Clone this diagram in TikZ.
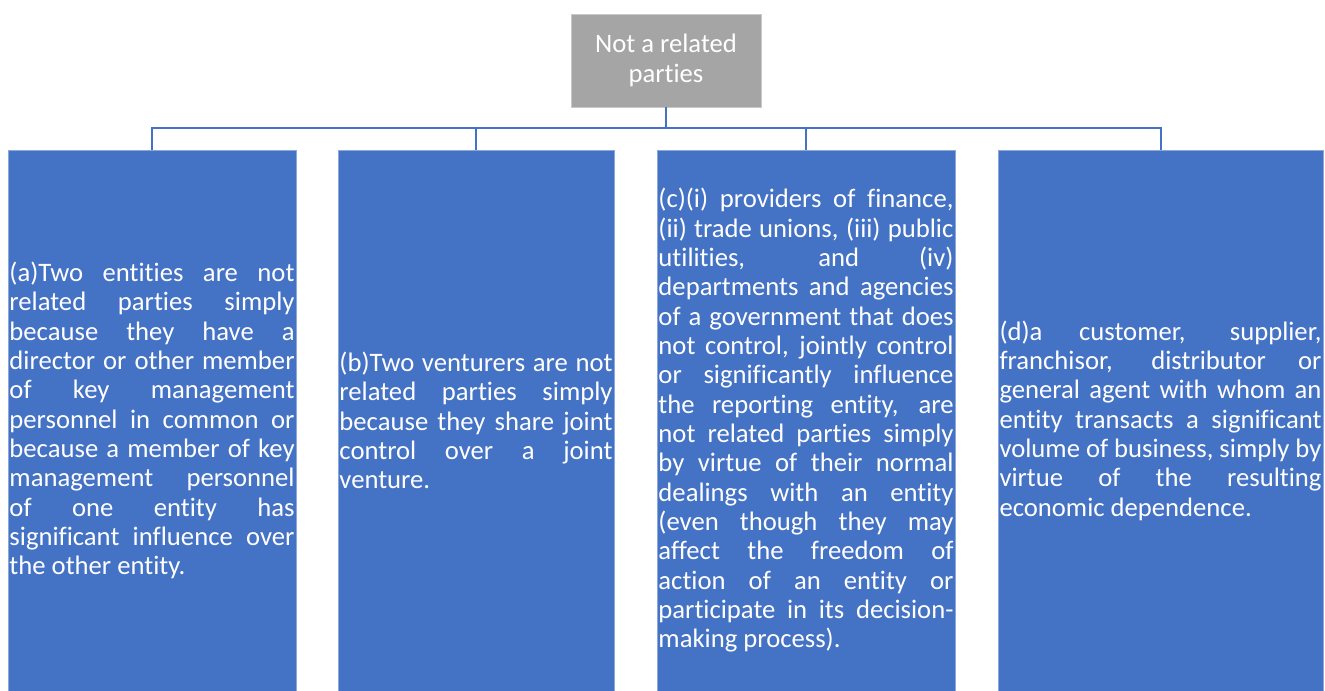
\documentclass[tikz,border=0pt]{standalone}
\usepackage{fontspec}
\setmainfont{Carlito}[Ligatures={NoCommon}]
\definecolor{leafblue}{RGB}{68,114,196}
\definecolor{leafedge}{RGB}{140,168,218}
\definecolor{rootgray}{RGB}{165,165,165}
\definecolor{rootedge}{RGB}{200,200,200}
\usepackage{tikz}
\usetikzlibrary{positioning}

\begin{document}
\begin{tikzpicture}[x=0.75pt, y=-0.75pt,
    font=\fontsize{20}{22}\selectfont,
    root/.style={draw=rootedge, line width=0.6pt, fill=rootgray, text=white,
                 minimum width=142.5pt, minimum height=69.75pt, align=center},
    leaf/.style={draw=leafedge, line width=0.6pt, fill=leafblue, text=white,
                 minimum height=405.75pt, inner sep=1.1pt, align=justify,
                 execute at begin node={\hyphenpenalty=10000\tolerance=10000\emergencystretch=2em}},
    link/.style={draw=leafblue, line width=1.5pt}]

  \useasboundingbox (0,0) rectangle (1325,691);

  \node[root] (notrel) at (666,60.5) {Not a related\\parties};

  \node[leaf, minimum width=216pt, text width=213.8pt] (partya) at (152,420.5) {
    (a)Two entities are not\linebreak
    related parties simply\linebreak
    because they have a\linebreak
    director or other member\linebreak
    of key management\linebreak
    personnel in common or\linebreak
    because a member of key\linebreak
    management personnel\linebreak
    of one entity has\linebreak
    significant influence over\linebreak
    the other entity.
  };

  \node[leaf, minimum width=207pt, text width=204.8pt] (partyb) at (476,420.5) {
    (b)Two venturers are not\linebreak
    related parties simply\linebreak
    because they share joint\linebreak
    control over a joint\linebreak
    venture.
  };

  \node[leaf, minimum width=223.5pt, text width=221.3pt] (partyc) at (806,420.5) {
    (c)(i) providers of finance,\linebreak
    (ii) trade unions, (iii) public\linebreak
    utilities, and (iv)\linebreak
    departments and agencies\linebreak
    of a government that does\linebreak
    not control, jointly control\linebreak
    or significantly influence\linebreak
    the reporting entity, are\linebreak
    not related parties simply\linebreak
    by virtue of their normal\linebreak
    dealings with an entity\linebreak
    (even though they may\linebreak
    affect the freedom of\linebreak
    action of an entity or\linebreak
    participate in its decision-\linebreak
    making process).
  };

  \node[leaf, minimum width=243.75pt, text width=241.5pt] (partyd) at (1160.5,420.5) {
    (d)a customer, supplier,\linebreak
    franchisor, distributor or\linebreak
    general agent with whom an\linebreak
    entity transacts a significant\linebreak
    volume of business, simply by\linebreak
    virtue of the resulting\linebreak
    economic dependence.
  };

  \coordinate (bus) at (666,128);
  \draw[link] (notrel.south) -- (bus);
  \draw[link] (partya.north) |- (bus);
  \draw[link] (partyb.north) |- (bus);
  \draw[link] (partyc.north) |- (bus);
  \draw[link] (partyd.north) |- (bus);

\end{tikzpicture}
\end{document}
